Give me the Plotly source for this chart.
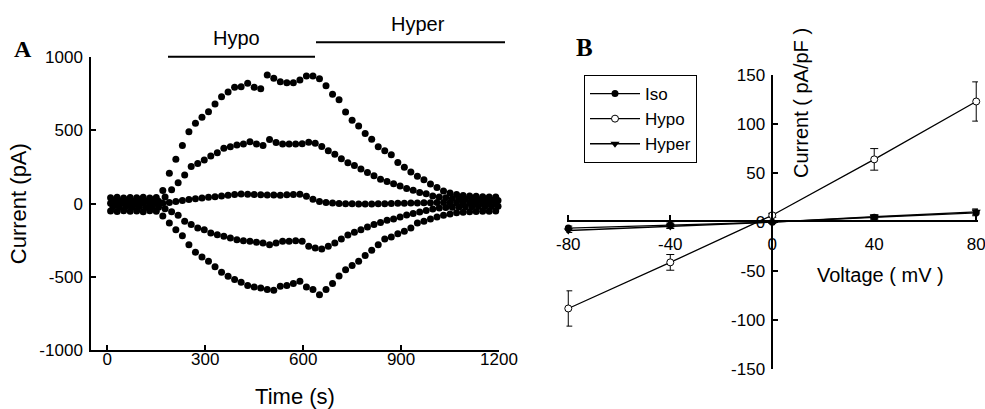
import plotly.graph_objects as go

W, H = 985, 409


def px(x):
    return x / W


def py(y):
    return 1 - y / H


# ---------------- Panel A data (time course of current at 5 test potentials) ----------------
times = [10, 30, 50, 70, 90, 110, 130, 150, 170, 190, 210, 230, 250, 270, 290, 310, 330, 350, 370, 390,
         410, 430, 450, 470, 490, 510, 530, 550, 570, 590, 610, 630, 650, 670, 690, 710, 730, 750, 770, 790,
         810, 830, 850, 870, 890, 910, 930, 950, 970, 990, 1010, 1030, 1050, 1070, 1090, 1110, 1130, 1150, 1170, 1190]
times_b = [17, 37, 57, 77, 97, 117, 137, 157, 177, 197, 217, 237, 257, 277, 297, 317, 337, 357, 377, 397,
           417, 437, 457, 477, 497, 517, 537, 557, 577, 597, 617, 637, 657, 677, 697, 717, 737, 757, 777, 797,
           817, 837, 857, 877, 897, 917, 937, 957, 977, 997, 1017, 1037, 1057, 1077, 1097, 1117, 1137, 1157, 1177, 1197]

cur_p80 = [40, 44, 38, 42, 40, 43, 39, 42,
           90, 207, 303, 398, 492, 549, 590, 628, 681, 731,
           763, 795, 799, 822, 795, 785, 879, 856, 833, 826,
           826, 845, 872, 872, 853, 805, 747, 710, 626, 570,
           531, 480, 440, 388, 362, 334, 281, 249, 216, 187,
           163, 135, 110, 86, 73, 62, 56, 52, 50, 48,
           46, 45]
cur_p40 = [15, 18, 14, 16, 15, 17, 14, 16,
           45, 95, 143, 196, 253, 275, 298, 326, 348, 378,
           389, 401, 408, 423, 408, 398, 439, 417, 408, 408,
           408, 410, 420, 412, 390, 362, 337, 307, 280, 260,
           236, 212, 190, 167, 151, 136, 120, 104, 92, 77,
           68, 52, 45, 40, 36, 33, 30, 28, 26, 25,
           24, 22]
cur_0 = [2, -2, 3, 0, -1, 2, 0, 1, 3,
         8, 14, 22, 28, 34, 38, 43, 48, 53, 58,
         62, 66, 65, 62, 60, 59, 59, 58, 60, 62,
         64, 50, 30, 15, 8, 4, 1, 0, -1, -2,
         -2, -2, -1, 0, 1, 2, 3, 4, 5, 6,
         7, 8, 8, 7, 6, 5, 4, 3, 2, 2,
         1]
cur_m40 = [-22, -25, -20, -24, -22, -26, -21, -24,
           -35, -55, -80, -121, -143, -166, -178, -200, -212, -223,
           -235, -246, -253, -257, -264, -269, -280, -269, -257, -257,
           -253, -257, -291, -303, -310, -291, -269, -241, -214, -196,
           -178, -160, -143, -128, -114, -105, -91, -77, -68, -57,
           -46, -36, -30, -27, -25, -23, -22, -21, -20, -20,
           -19, -18]
cur_m80 = [-50, -54, -48, -52, -50, -55, -49, -52,
           -85, -132, -178, -219, -280, -332, -364, -394, -432, -469,
           -496, -519, -537, -560, -569, -576, -587, -592, -565, -560,
           -546, -530, -569, -587, -622, -587, -546, -494, -451, -423,
           -394, -355, -319, -280, -241, -228, -205, -189, -166, -132,
           -121, -105, -91, -80, -70, -62, -58, -55, -54, -52,
           -52, -50]

a_x_ticks = [0, 300, 600, 900, 1200]
a_x_labels = ["0", "300", "600", "900", "1200"]
a_y_ticks = [-1000, -500, 0, 500, 1000]
a_y_labels = ["-1000", "-500", "0", "500", "1000"]

# ---------------- Panel B data (I-V relation) ----------------
voltages = [-80, -40, 0, 40, 80]
iso_mean = [-6, -3, 0, 5, 9.5]
iso_err = [2, 2, 1, 2, 3]
hypo_mean = [-88, -41, 7, 64, 123]
hypo_err = [18, 8, 2, 11, 20]
hyper_mean = [-8.5, -4.5, 0, 5.5, 10.5]
hyper_err = [2, 2, 1, 2, 3]

b_x_ticks = [-80, -40, 0, 40, 80]
b_x_labels = ["-80", "-40", "0", "40", "80"]
b_y_ticks = [-150, -100, -50, 0, 50, 100, 150]
b_y_labels = ["-150", "-100", "-50", "0", "50", "100", "150"]

FONT = "Liberation Sans, Arial, sans-serif"
SERIF = "Liberation Serif, Times New Roman, serif"

fig = go.Figure()

for t, v in [(times, cur_p80), (times_b, cur_p40), (times, cur_0), (times_b, cur_m40), (times, cur_m80)]:
    fig.add_trace(go.Scatter(x=t, y=v, mode="markers", xaxis="x", yaxis="y",
                             marker=dict(size=7, color="black"), showlegend=False,
                             cliponaxis=False, hoverinfo="skip"))

series_b = [
    ("Iso", iso_mean, iso_err, dict(symbol="circle", size=7, color="black")),
    ("Hypo", hypo_mean, hypo_err, dict(symbol="circle", size=7, color="white",
                                       line=dict(color="black", width=1))),
    ("Hyper", hyper_mean, hyper_err, dict(symbol="triangle-down", size=8, color="black")),
]
for name, m, e, mk in series_b:
    fig.add_trace(go.Scatter(x=voltages, y=m, name=name, mode="lines+markers",
                             xaxis="x2", yaxis="y2", marker=mk,
                             line=dict(color="black", width=1.3),
                             error_y=dict(type="data", array=e, color="black", thickness=1, width=4),
                             cliponaxis=False))

axis_common = dict(showline=True, linecolor="black", linewidth=1.5, ticks="inside", ticklen=5,
                   tickwidth=1.5, tickcolor="black", showgrid=False, zeroline=False,
                   tickmode="array", ticklabeloverflow="allow",
                   tickfont=dict(family=FONT, size=17, color="black"), automargin=False)

fig.update_layout(
    width=W, height=H, autosize=False,
    margin=dict(l=0, r=0, t=0, b=0),
    paper_bgcolor="white", plot_bgcolor="rgba(0,0,0,0)",
    font=dict(family=FONT, color="black"),
    xaxis=dict(domain=[px(91), px(499)], range=[-50, 1200], tickvals=a_x_ticks, ticktext=a_x_labels,
               anchor="y", ticklabelstandoff=-7,
               title=dict(text="Time (s)", font=dict(size=22), standoff=21), **axis_common),
    yaxis=dict(domain=[py(350), py(57.3)], range=[-1000, 1000], tickvals=a_y_ticks, ticktext=a_y_labels,
               anchor="x", ticklabelstandoff=3,
               title=dict(text="Current (pA)", font=dict(size=22), standoff=7), **axis_common),
    xaxis2=dict(domain=[px(566.5), px(978)], range=[-80.7, 80.7], tickvals=b_x_ticks, ticktext=b_x_labels,
                anchor="free", position=py(221), ticklabelstandoff=8, **axis_common),
    yaxis2=dict(domain=[py(369.3), py(75)], range=[-150, 150], tickvals=b_y_ticks, ticktext=b_y_labels,
                anchor="free", position=px(772.3), ticklabelstandoff=3, **axis_common),
    legend=dict(x=px(584), y=py(75), xanchor="left", yanchor="top",
                bordercolor="black", borderwidth=1, bgcolor="white", itemwidth=50,
                font=dict(family=FONT, size=17, color="black"), tracegroupgap=0),
    showlegend=True,
)

# period bars over panel A
for y0, x0, x1 in [(56.7, 168, 315), (42.3, 316, 505)]:
    fig.add_shape(type="line", xref="paper", yref="paper", x0=px(x0), x1=px(x1), y0=py(y0), y1=py(y0),
                  line=dict(color="black", width=2))

annots = [
    dict(text="Hypo", x=px(236), y=py(38), font=dict(family=FONT, size=20)),
    dict(text="Hyper", x=px(418), y=py(24), font=dict(family=FONT, size=20)),
    dict(text="<b>A</b>", x=px(23), y=py(49), font=dict(family=SERIF, size=24)),
    dict(text="<b>B</b>", x=px(584), y=py(47), font=dict(family=SERIF, size=25)),
    dict(text="Voltage ( mV )", x=px(880), y=py(275), font=dict(family=FONT, size=20)),
    dict(text="Current ( pA/pF )", x=px(801), y=py(103), textangle=-90, font=dict(family=FONT, size=20)),
]
for a in annots:
    fig.add_annotation(xref="paper", yref="paper", showarrow=False, xanchor="center", yanchor="middle",
                       font_color="black", **a)

fig.write_html("out.html", config={"displayModeBar": False},
               post_script="document.body.style.margin='0';document.body.style.overflow='hidden';")
